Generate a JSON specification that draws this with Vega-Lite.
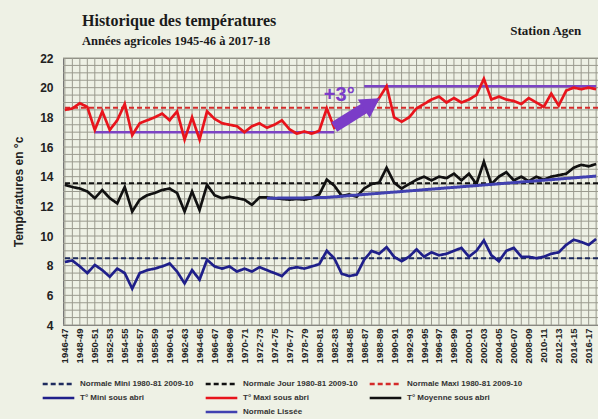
{
  "$schema": "https://vega.github.io/schema/vega-lite/v6.json",
  "width": 535,
  "height": 267,
  "autosize": {"type": "none"},
  "padding": {"left": 63, "top": 58, "right": 0, "bottom": 94},
  "background": "#eef1e5",
  "title": {
    "text": "Historique des températures",
    "subtitle": "Années agricoles 1945-46 à 2017-18",
    "anchor": "start",
    "frame": "group",
    "dx": 19,
    "offset": -22,
    "font": "Liberation Serif",
    "fontSize": 16,
    "fontWeight": "bold",
    "color": "#1a1a1a",
    "subtitleFont": "Liberation Serif",
    "subtitleFontSize": 12.5,
    "subtitleFontWeight": "bold",
    "subtitleColor": "#1a1a1a",
    "subtitlePadding": 6
  },
  "datasets": {
    "grille": [
      {"t": 4}, {"t": 4.5}, {"t": 5}, {"t": 5.5}, {"t": 6}, {"t": 6.5}, {"t": 7}, {"t": 7.5}, {"t": 8}, {"t": 8.5},
      {"t": 9}, {"t": 9.5}, {"t": 10}, {"t": 10.5}, {"t": 11}, {"t": 11.5}, {"t": 12}, {"t": 12.5}, {"t": 13}, {"t": 13.5},
      {"t": 14}, {"t": 14.5}, {"t": 15}, {"t": 15.5}, {"t": 16}, {"t": 16.5}, {"t": 17}, {"t": 17.5}, {"t": 18}, {"t": 18.5},
      {"t": 19}, {"t": 19.5}, {"t": 20}, {"t": 20.5}, {"t": 21}, {"t": 21.5}, {"t": 22}
    ],
    "normales": [
      {"serie": "Normale Mini 1980-81 2009-10", "t": 8.5},
      {"serie": "Normale Jour 1980-81 2009-10", "t": 13.55},
      {"serie": "Normale Maxi 1980-81 2009-10", "t": 18.65}
    ],
    "annees": [
      {"annee": "1946-47", "T° Maxi sous abri": 18.5, "T° Moyenne sous abri": 13.45, "T° Mini sous abri": 8.25},
      {"annee": "1947-48", "T° Maxi sous abri": 18.6, "T° Moyenne sous abri": 13.3, "T° Mini sous abri": 8.35},
      {"annee": "1948-49", "T° Maxi sous abri": 18.95, "T° Moyenne sous abri": 13.2, "T° Mini sous abri": 7.95},
      {"annee": "1949-50", "T° Maxi sous abri": 18.7, "T° Moyenne sous abri": 13.0, "T° Mini sous abri": 7.5},
      {"annee": "1950-51", "T° Maxi sous abri": 17.15, "T° Moyenne sous abri": 12.55, "T° Mini sous abri": 8.05},
      {"annee": "1951-52", "T° Maxi sous abri": 18.4, "T° Moyenne sous abri": 13.1, "T° Mini sous abri": 7.7},
      {"annee": "1952-53", "T° Maxi sous abri": 17.15, "T° Moyenne sous abri": 12.55, "T° Mini sous abri": 7.25},
      {"annee": "1953-54", "T° Maxi sous abri": 17.8, "T° Moyenne sous abri": 12.2, "T° Mini sous abri": 7.8},
      {"annee": "1954-55", "T° Maxi sous abri": 18.9, "T° Moyenne sous abri": 13.3, "T° Mini sous abri": 7.5},
      {"annee": "1955-56", "T° Maxi sous abri": 16.8, "T° Moyenne sous abri": 11.65, "T° Mini sous abri": 6.45},
      {"annee": "1956-57", "T° Maxi sous abri": 17.6, "T° Moyenne sous abri": 12.45, "T° Mini sous abri": 7.5},
      {"annee": "1957-58", "T° Maxi sous abri": 17.8, "T° Moyenne sous abri": 12.75, "T° Mini sous abri": 7.7},
      {"annee": "1958-59", "T° Maxi sous abri": 18.0, "T° Moyenne sous abri": 12.9, "T° Mini sous abri": 7.8},
      {"annee": "1959-60", "T° Maxi sous abri": 18.25, "T° Moyenne sous abri": 13.1, "T° Mini sous abri": 7.95},
      {"annee": "1960-61", "T° Maxi sous abri": 17.8, "T° Moyenne sous abri": 13.2, "T° Mini sous abri": 8.15},
      {"annee": "1961-62", "T° Maxi sous abri": 18.4, "T° Moyenne sous abri": 12.9, "T° Mini sous abri": 7.6},
      {"annee": "1962-63", "T° Maxi sous abri": 16.5, "T° Moyenne sous abri": 11.65, "T° Mini sous abri": 6.8},
      {"annee": "1963-64", "T° Maxi sous abri": 18.0, "T° Moyenne sous abri": 13.0, "T° Mini sous abri": 7.7},
      {"annee": "1964-65", "T° Maxi sous abri": 16.5, "T° Moyenne sous abri": 11.75, "T° Mini sous abri": 7.05},
      {"annee": "1965-66", "T° Maxi sous abri": 18.4, "T° Moyenne sous abri": 13.45, "T° Mini sous abri": 8.4},
      {"annee": "1966-67", "T° Maxi sous abri": 17.9, "T° Moyenne sous abri": 12.75, "T° Mini sous abri": 7.95},
      {"annee": "1967-68", "T° Maxi sous abri": 17.6, "T° Moyenne sous abri": 12.55, "T° Mini sous abri": 7.8},
      {"annee": "1968-69", "T° Maxi sous abri": 17.5, "T° Moyenne sous abri": 12.65, "T° Mini sous abri": 7.95},
      {"annee": "1969-70", "T° Maxi sous abri": 17.4, "T° Moyenne sous abri": 12.55, "T° Mini sous abri": 7.6},
      {"annee": "1970-71", "T° Maxi sous abri": 17.0, "T° Moyenne sous abri": 12.45, "T° Mini sous abri": 7.8},
      {"annee": "1971-72", "T° Maxi sous abri": 17.4, "T° Moyenne sous abri": 12.1, "T° Mini sous abri": 7.6},
      {"annee": "1972-73", "T° Maxi sous abri": 17.6, "T° Moyenne sous abri": 12.6, "T° Mini sous abri": 7.9},
      {"annee": "1973-74", "T° Maxi sous abri": 17.3, "T° Moyenne sous abri": 12.6, "T° Mini sous abri": 7.7, "Normale Lissée": 12.55},
      {"annee": "1974-75", "T° Maxi sous abri": 17.5, "T° Moyenne sous abri": 12.55, "T° Mini sous abri": 7.5, "Normale Lissée": 12.55},
      {"annee": "1975-76", "T° Maxi sous abri": 17.8, "T° Moyenne sous abri": 12.5, "T° Mini sous abri": 7.3, "Normale Lissée": 12.56},
      {"annee": "1976-77", "T° Maxi sous abri": 17.2, "T° Moyenne sous abri": 12.45, "T° Mini sous abri": 7.8, "Normale Lissée": 12.56},
      {"annee": "1977-78", "T° Maxi sous abri": 16.9, "T° Moyenne sous abri": 12.5, "T° Mini sous abri": 7.9, "Normale Lissée": 12.57},
      {"annee": "1978-79", "T° Maxi sous abri": 17.05, "T° Moyenne sous abri": 12.45, "T° Mini sous abri": 7.8, "Normale Lissée": 12.57},
      {"annee": "1979-80", "T° Maxi sous abri": 16.9, "T° Moyenne sous abri": 12.55, "T° Mini sous abri": 7.95, "Normale Lissée": 12.58},
      {"annee": "1980-81", "T° Maxi sous abri": 17.1, "T° Moyenne sous abri": 12.8, "T° Mini sous abri": 8.1, "Normale Lissée": 12.59},
      {"annee": "1981-82", "T° Maxi sous abri": 18.6, "T° Moyenne sous abri": 13.8, "T° Mini sous abri": 9.0, "Normale Lissée": 12.6},
      {"annee": "1982-83", "T° Maxi sous abri": 17.3, "T° Moyenne sous abri": 13.4, "T° Mini sous abri": 8.5, "Normale Lissée": 12.64},
      {"annee": "1983-84", "T° Maxi sous abri": 17.6, "T° Moyenne sous abri": 12.7, "T° Mini sous abri": 7.45, "Normale Lissée": 12.68},
      {"annee": "1984-85", "T° Maxi sous abri": 18.0, "T° Moyenne sous abri": 12.8, "T° Mini sous abri": 7.3, "Normale Lissée": 12.72},
      {"annee": "1985-86", "T° Maxi sous abri": 18.6, "T° Moyenne sous abri": 12.65, "T° Mini sous abri": 7.4, "Normale Lissée": 12.76},
      {"annee": "1986-87", "T° Maxi sous abri": 18.3, "T° Moyenne sous abri": 13.2, "T° Mini sous abri": 8.4, "Normale Lissée": 12.8},
      {"annee": "1987-88", "T° Maxi sous abri": 18.7, "T° Moyenne sous abri": 13.5, "T° Mini sous abri": 9.0, "Normale Lissée": 12.84},
      {"annee": "1988-89", "T° Maxi sous abri": 19.3, "T° Moyenne sous abri": 13.6, "T° Mini sous abri": 8.8, "Normale Lissée": 12.88},
      {"annee": "1989-90", "T° Maxi sous abri": 20.1, "T° Moyenne sous abri": 14.6, "T° Mini sous abri": 9.25, "Normale Lissée": 12.92},
      {"annee": "1990-91", "T° Maxi sous abri": 18.0, "T° Moyenne sous abri": 13.6, "T° Mini sous abri": 8.6, "Normale Lissée": 12.96},
      {"annee": "1991-92", "T° Maxi sous abri": 17.7, "T° Moyenne sous abri": 13.2, "T° Mini sous abri": 8.3, "Normale Lissée": 13.0},
      {"annee": "1992-93", "T° Maxi sous abri": 18.0, "T° Moyenne sous abri": 13.5, "T° Mini sous abri": 8.6, "Normale Lissée": 13.04},
      {"annee": "1993-94", "T° Maxi sous abri": 18.6, "T° Moyenne sous abri": 13.8, "T° Mini sous abri": 9.1, "Normale Lissée": 13.08},
      {"annee": "1994-95", "T° Maxi sous abri": 18.9, "T° Moyenne sous abri": 14.0, "T° Mini sous abri": 8.6, "Normale Lissée": 13.12},
      {"annee": "1995-96", "T° Maxi sous abri": 19.2, "T° Moyenne sous abri": 13.75, "T° Mini sous abri": 8.9, "Normale Lissée": 13.16},
      {"annee": "1996-97", "T° Maxi sous abri": 19.4, "T° Moyenne sous abri": 14.0, "T° Mini sous abri": 8.7, "Normale Lissée": 13.2},
      {"annee": "1997-98", "T° Maxi sous abri": 19.0, "T° Moyenne sous abri": 13.9, "T° Mini sous abri": 8.8, "Normale Lissée": 13.24},
      {"annee": "1998-99", "T° Maxi sous abri": 19.3, "T° Moyenne sous abri": 14.2, "T° Mini sous abri": 9.0, "Normale Lissée": 13.28},
      {"annee": "1999-00", "T° Maxi sous abri": 19.0, "T° Moyenne sous abri": 13.75, "T° Mini sous abri": 9.2, "Normale Lissée": 13.32},
      {"annee": "2000-01", "T° Maxi sous abri": 19.2, "T° Moyenne sous abri": 14.2, "T° Mini sous abri": 8.6, "Normale Lissée": 13.36},
      {"annee": "2001-02", "T° Maxi sous abri": 19.5, "T° Moyenne sous abri": 13.5, "T° Mini sous abri": 9.0, "Normale Lissée": 13.4},
      {"annee": "2002-03", "T° Maxi sous abri": 20.6, "T° Moyenne sous abri": 15.0, "T° Mini sous abri": 9.7, "Normale Lissée": 13.44},
      {"annee": "2003-04", "T° Maxi sous abri": 19.2, "T° Moyenne sous abri": 13.5, "T° Mini sous abri": 8.7, "Normale Lissée": 13.48},
      {"annee": "2004-05", "T° Maxi sous abri": 19.4, "T° Moyenne sous abri": 14.0, "T° Mini sous abri": 8.3, "Normale Lissée": 13.52},
      {"annee": "2005-06", "T° Maxi sous abri": 19.2, "T° Moyenne sous abri": 14.3, "T° Mini sous abri": 9.0, "Normale Lissée": 13.56},
      {"annee": "2006-07", "T° Maxi sous abri": 19.1, "T° Moyenne sous abri": 13.75, "T° Mini sous abri": 9.2, "Normale Lissée": 13.6},
      {"annee": "2007-08", "T° Maxi sous abri": 18.9, "T° Moyenne sous abri": 14.0, "T° Mini sous abri": 8.6, "Normale Lissée": 13.64},
      {"annee": "2008-09", "T° Maxi sous abri": 19.3, "T° Moyenne sous abri": 13.7, "T° Mini sous abri": 8.6, "Normale Lissée": 13.68},
      {"annee": "2009-10", "T° Maxi sous abri": 19.0, "T° Moyenne sous abri": 14.0, "T° Mini sous abri": 8.5, "Normale Lissée": 13.72},
      {"annee": "2010-11", "T° Maxi sous abri": 18.7, "T° Moyenne sous abri": 13.8, "T° Mini sous abri": 8.6, "Normale Lissée": 13.76},
      {"annee": "2011-12", "T° Maxi sous abri": 19.6, "T° Moyenne sous abri": 14.0, "T° Mini sous abri": 8.8, "Normale Lissée": 13.8},
      {"annee": "2012-13", "T° Maxi sous abri": 18.8, "T° Moyenne sous abri": 14.1, "T° Mini sous abri": 8.9, "Normale Lissée": 13.84},
      {"annee": "2013-14", "T° Maxi sous abri": 19.8, "T° Moyenne sous abri": 14.2, "T° Mini sous abri": 9.4, "Normale Lissée": 13.88},
      {"annee": "2014-15", "T° Maxi sous abri": 20.0, "T° Moyenne sous abri": 14.6, "T° Mini sous abri": 9.75, "Normale Lissée": 13.92},
      {"annee": "2015-16", "T° Maxi sous abri": 19.9, "T° Moyenne sous abri": 14.8, "T° Mini sous abri": 9.6, "Normale Lissée": 13.96},
      {"annee": "2016-17", "T° Maxi sous abri": 20.0, "T° Moyenne sous abri": 14.7, "T° Mini sous abri": 9.4, "Normale Lissée": 14.0},
      {"annee": "2017-18", "T° Maxi sous abri": 19.9, "T° Moyenne sous abri": 14.85, "T° Mini sous abri": 9.8, "Normale Lissée": 14.04}
    ]
  },
  "layer": [
    {
      "data": {"name": "annees"},
      "mark": {"type": "rule", "color": "#9a9a8e", "strokeWidth": 1},
      "encoding": {
        "x": {
          "field": "annee", "type": "ordinal", "title": null,
          "scale": {"type": "point", "padding": 0.25},
          "axis": {
            "labelExpr": "toNumber(substring(datum.label, 0, 4)) % 2 === 0 ? datum.label : ''",
            "labelAngle": 270, "labelFontSize": 9.5, "labelPadding": 3, "labelOverlap": false, "grid": false
          }
        }
      }
    },
    {
      "data": {"name": "grille"},
      "mark": {"type": "rule", "color": "#9a9a8e", "strokeWidth": 1},
      "encoding": {
        "y": {
          "field": "t", "type": "quantitative", "title": "Températures en °c",
          "scale": {"domain": [4, 22], "nice": false, "zero": false},
          "axis": {
            "tickCount": 9, "format": "d",
            "labelOverlap": false, "grid": false,
            "labelFontSize": 12, "labelPadding": 10, "titleFontSize": 12, "titlePadding": 14
          }
        }
      }
    },
    {
      "data": {"name": "normales"},
      "mark": {"type": "rule", "strokeWidth": 2},
      "encoding": {
        "y": {"field": "t", "type": "quantitative"},
        "color": {
          "field": "serie", "type": "nominal",
          "scale": {
            "domain": ["Normale Mini 1980-81 2009-10", "Normale Jour 1980-81 2009-10", "Normale Maxi 1980-81 2009-10", "T° Mini sous abri", "T° Maxi sous abri", "T° Moyenne sous abri", " ", "Normale Lissée"],
            "range": ["#1e2b5e", "#111111", "#d42a2a", "#1f1f8a", "#e8141c", "#111111", "rgba(0,0,0,0)", "#4141b0"]
          },
          "legend": {
            "orient": "none", "legendX": -22, "legendY": 320, "columns": 3, "direction": "horizontal",
            "symbolType": "stroke", "symbolSize": 1000, "symbolStrokeWidth": 2.5, "clipHeight": 12,
            "labelFont": "Liberation Sans", "labelFontSize": 8, "labelFontWeight": "bold", "labelColor": "#333333",
            "columnPadding": 10, "rowPadding": 2, "title": null, "labelLimit": 300, "padding": 0
          }
        },
        "strokeDash": {
          "field": "serie", "type": "nominal",
          "scale": {
            "domain": ["Normale Mini 1980-81 2009-10", "Normale Jour 1980-81 2009-10", "Normale Maxi 1980-81 2009-10", "T° Mini sous abri", "T° Maxi sous abri", "T° Moyenne sous abri", " ", "Normale Lissée"],
            "range": [[5,3],[5,3],[5,3],[1,0],[1,0],[1,0],[1,0],[1,0]]
          }
        }
      }
    },
    {
      "data": {"values": [
        {"annee": "1950-51", "fin": "1982-83", "t": 17.0},
        {"annee": "1986-87", "fin": "2017-18", "t": 20.1}
      ]},
      "mark": {"type": "rule", "color": "#7b44c4", "strokeWidth": 2.5},
      "encoding": {
        "x": {"field": "annee", "type": "ordinal"},
        "x2": {"field": "fin"},
        "y": {"field": "t", "type": "quantitative"}
      }
    },
    {
      "data": {"name": "annees"},
      "transform": [{"fold": ["T° Maxi sous abri", "T° Moyenne sous abri", "T° Mini sous abri"], "as": ["serie", "t"]}],
      "mark": {"type": "line", "strokeWidth": 2.7},
      "encoding": {
        "x": {"field": "annee", "type": "ordinal"},
        "y": {"field": "t", "type": "quantitative"},
        "color": {"field": "serie", "type": "nominal"},
        "strokeDash": {"field": "serie", "type": "nominal"}
      }
    },
    {
      "data": {"name": "annees"},
      "transform": [{"fold": ["Normale Lissée"], "as": ["serie", "t"]}, {"filter": "isValid(datum.t)"}],
      "mark": {"type": "line", "strokeWidth": 3},
      "encoding": {
        "x": {"field": "annee", "type": "ordinal"},
        "y": {"field": "t", "type": "quantitative"},
        "color": {"field": "serie", "type": "nominal"},
        "strokeDash": {"field": "serie", "type": "nominal"}
      }
    },
    {
      "data": {"values": [{"annee": "1982-83", "a": "1986-87", "t": 17.35, "t2": 18.6}]},
      "mark": {"type": "rule", "color": "#7b3cc8", "strokeWidth": 11, "strokeCap": "butt"},
      "encoding": {
        "x": {"field": "annee", "type": "ordinal"},
        "x2": {"field": "a"},
        "y": {"field": "t", "type": "quantitative"},
        "y2": {"field": "t2"}
      }
    },
    {
      "data": {"values": [{"annee": "1987-88", "t": 18.93}]},
      "mark": {"type": "point", "shape": "triangle-right", "angle": 327, "size": 480, "filled": true, "color": "#7b3cc8", "opacity": 1},
      "encoding": {
        "x": {"field": "annee", "type": "ordinal"},
        "y": {"field": "t", "type": "quantitative"}
      }
    },
    {
      "data": {"values": [{"annee": "1982-83", "t": 19.5, "texte": "+3°"}]},
      "mark": {"type": "text", "font": "Liberation Sans", "fontSize": 20, "fontWeight": "bold", "color": "#7b3cc8", "align": "center", "baseline": "middle", "dx": 5},
      "encoding": {
        "x": {"field": "annee", "type": "ordinal"},
        "y": {"field": "t", "type": "quantitative"},
        "text": {"field": "texte"}
      }
    },
    {
      "data": {"values": [{"annee": "2010-11", "t": 23.8, "texte": "Station Agen"}]},
      "mark": {"type": "text", "font": "Liberation Serif", "fontSize": 13, "fontWeight": "bold", "color": "#1a1a1a", "align": "center", "baseline": "middle", "dx": 2},
      "encoding": {
        "x": {"field": "annee", "type": "ordinal"},
        "y": {"field": "t", "type": "quantitative"},
        "text": {"field": "texte"}
      }
    }
  ],
  "config": {
    "view": {"stroke": "#8a8a80"},
    "axis": {
      "labelFont": "Liberation Sans", "titleFont": "Liberation Sans",
      "labelFontWeight": "bold", "titleFontWeight": "bold",
      "labelColor": "#222222", "titleColor": "#222222",
      "domainColor": "#777777", "ticks": false
    },
    "axisX": {
      "labelExpr": "toNumber(substring(datum.label, 0, 4)) % 2 === 0 ? datum.label : ''",
      "labelAngle": 270, "labelFontSize": 9.5, "labelPadding": 3, "labelOverlap": false
    },
    "axisY": {
      "tickCount": 9, "format": "d", "labelOverlap": false,
      "labelFontSize": 12, "labelPadding": 10, "titleFontSize": 12, "titlePadding": 14
    }
  }
}
